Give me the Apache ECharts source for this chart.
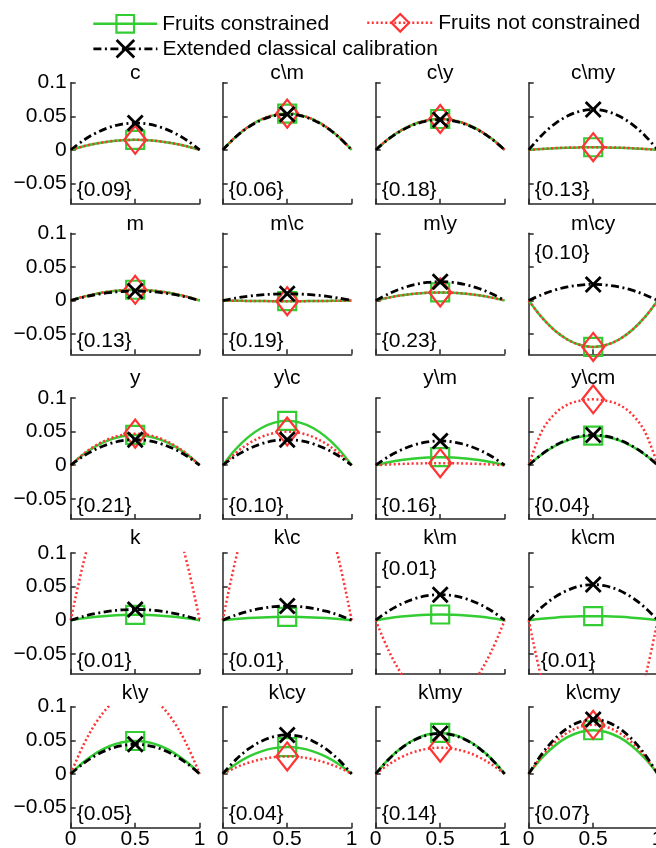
<!DOCTYPE html>
<html><head><meta charset="utf-8">
<script src="https://cdn.jsdelivr.net/npm/echarts@6/dist/echarts.min.js"></script>
<style>html,body{margin:0;padding:0;background:#fff}#c{width:656px;height:848px}</style>
</head><body><div id="c"></div>
<script>
// ---------------- DATA ----------------
const xs = [0, 0.1, 0.2, 0.3, 0.4, 0.5, 0.6, 0.7, 0.8, 0.9, 1];
const markerX = 0.5;
const panelTitles = ['c','c\\m','c\\y','c\\my','m','m\\c','m\\y','m\\cy','y','y\\c','y\\m','y\\cm','k','k\\c','k\\m','k\\cm','k\\y','k\\cy','k\\my','k\\cmy'];
const panelNotes = ['{0.09}','{0.06}','{0.18}','{0.13}','{0.13}','{0.19}','{0.23}','{0.10}','{0.21}','{0.10}','{0.16}','{0.04}','{0.01}','{0.01}','{0.01}','{0.01}','{0.05}','{0.04}','{0.14}','{0.07}'];
const seriesNames = ['Fruits constrained', 'Fruits not constrained', 'Extended classical calibration'];
const xTickValues = [0, 0.5, 1];
const xTickLabels = ['0', '0.5', '1'];
const yTickValues = [-0.05, 0, 0.05, 0.1];
const yTickLabels = ['\u22120.05', '0', '0.05', '0.1'];

const fruitsConstrained = [
  [0,0.0054,0.0096,0.0126,0.0144,0.015,0.0144,0.0126,0.0096,0.0054,0],
  [0,0.0194,0.0346,0.0454,0.0518,0.054,0.0518,0.0454,0.0346,0.0194,0],
  [0,0.0166,0.0294,0.0386,0.0442,0.046,0.0442,0.0386,0.0294,0.0166,0],
  [0,0.0014,0.0026,0.0034,0.0038,0.004,0.0038,0.0034,0.0026,0.0014,0],
  [0,0.0058,0.0102,0.0134,0.0154,0.016,0.0154,0.0134,0.0102,0.0058,0],
  [0,-0.0004,-0.0006,-0.0008,-0.001,-0.001,-0.001,-0.0008,-0.0006,-0.0004,0],
  [0,0.0043,0.0077,0.0101,0.0115,0.012,0.0115,0.0101,0.0077,0.0043,0],
  [0,-0.0248,-0.0442,-0.058,-0.0662,-0.069,-0.0662,-0.058,-0.0442,-0.0248,0],
  [0,0.0162,0.0288,0.0378,0.0432,0.045,0.0432,0.0378,0.0288,0.0162,0],
  [0,0.0238,0.0422,0.0554,0.0634,0.066,0.0634,0.0554,0.0422,0.0238,0],
  [0,0.0043,0.0077,0.0101,0.0115,0.012,0.0115,0.0101,0.0077,0.0043,0],
  [0,0.0158,0.0282,0.037,0.0422,0.044,0.0422,0.037,0.0282,0.0158,0],
  [0,0.0029,0.0051,0.0067,0.0077,0.008,0.0077,0.0067,0.0051,0.0029,0],
  [0,0.0018,0.0032,0.0042,0.0048,0.005,0.0048,0.0042,0.0032,0.0018,0],
  [0,0.0031,0.0054,0.0071,0.0082,0.0085,0.0082,0.0071,0.0054,0.0031,0],
  [0,0.0022,0.0038,0.005,0.0058,0.006,0.0058,0.005,0.0038,0.0022,0],
  [0,0.0176,0.0314,0.0412,0.047,0.049,0.047,0.0412,0.0314,0.0176,0],
  [0,0.0144,0.0256,0.0336,0.0384,0.04,0.0384,0.0336,0.0256,0.0144,0],
  [0,0.022,0.039,0.0512,0.0586,0.061,0.0586,0.0512,0.039,0.022,0],
  [0,0.0234,0.0416,0.0546,0.0624,0.065,0.0624,0.0546,0.0416,0.0234,0]
];
const fruitsNotConstrained = [
  [0,0.0054,0.0096,0.0126,0.0144,0.015,0.0144,0.0126,0.0096,0.0054,0],
  [0,0.0194,0.0346,0.0454,0.0518,0.054,0.0518,0.0454,0.0346,0.0194,0],
  [0,0.0166,0.0294,0.0386,0.0442,0.046,0.0442,0.0386,0.0294,0.0166,0],
  [0,0.0014,0.0026,0.0034,0.0038,0.004,0.0038,0.0034,0.0026,0.0014,0],
  [0,0.0058,0.0102,0.0134,0.0154,0.016,0.0154,0.0134,0.0102,0.0058,0],
  [0,-0.0004,-0.0006,-0.0008,-0.001,-0.001,-0.001,-0.0008,-0.0006,-0.0004,0],
  [0,0.0043,0.0077,0.0101,0.0115,0.012,0.0115,0.0101,0.0077,0.0043,0],
  [0,-0.0248,-0.0442,-0.058,-0.0662,-0.069,-0.0662,-0.058,-0.0442,-0.0248,0],
  [0,0.0169,0.0301,0.0395,0.0451,0.047,0.0451,0.0395,0.0301,0.0169,0],
  [0,0.018,0.032,0.042,0.048,0.05,0.048,0.042,0.032,0.018,0],
  [0,0.0011,0.0019,0.0025,0.0029,0.003,0.0029,0.0025,0.0019,0.0011,0],
  [0,0.05,0.076,0.09,0.096,0.098,0.096,0.09,0.076,0.05,0],
  [0,0.0864,0.1536,0.2016,0.2304,0.24,0.2304,0.2016,0.1536,0.0864,0],
  [0,0.09,0.16,0.21,0.24,0.25,0.24,0.21,0.16,0.09,0],
  [0,-0.045,-0.08,-0.105,-0.12,-0.125,-0.12,-0.105,-0.08,-0.045,0],
  [0,-0.0878,-0.1562,-0.205,-0.2342,-0.244,-0.2342,-0.205,-0.1562,-0.0878,0],
  [0,0.0436,0.0774,0.1016,0.1162,0.121,0.1162,0.1016,0.0774,0.0436,0],
  [0,0.0094,0.0166,0.0218,0.025,0.026,0.025,0.0218,0.0166,0.0094,0],
  [0,0.014,0.025,0.0328,0.0374,0.039,0.0374,0.0328,0.025,0.014,0],
  [0,0.0263,0.0467,0.0613,0.0701,0.073,0.0701,0.0613,0.0467,0.0263,0]
];
const extendedClassical = [
  [0,0.0144,0.0256,0.0336,0.0384,0.04,0.0384,0.0336,0.0256,0.0144,0],
  [0,0.0191,0.0339,0.0445,0.0509,0.053,0.0509,0.0445,0.0339,0.0191,0],
  [0,0.0162,0.0288,0.0378,0.0432,0.045,0.0432,0.0378,0.0288,0.0162,0],
  [0,0.0216,0.0384,0.0504,0.0576,0.06,0.0576,0.0504,0.0384,0.0216,0],
  [0,0.005,0.009,0.0118,0.0134,0.014,0.0134,0.0118,0.009,0.005,0],
  [0,0.0036,0.0064,0.0084,0.0096,0.01,0.0096,0.0084,0.0064,0.0036,0],
  [0,0.0101,0.0179,0.0235,0.0269,0.028,0.0269,0.0235,0.0179,0.0101,0],
  [0,0.0086,0.0154,0.0202,0.023,0.024,0.023,0.0202,0.0154,0.0086,0],
  [0,0.0137,0.0243,0.0319,0.0365,0.038,0.0365,0.0319,0.0243,0.0137,0],
  [0,0.0137,0.0243,0.0319,0.0365,0.038,0.0365,0.0319,0.0243,0.0137,0],
  [0,0.013,0.023,0.0302,0.0346,0.036,0.0346,0.0302,0.023,0.013,0],
  [0,0.0162,0.0288,0.0378,0.0432,0.045,0.0432,0.0378,0.0288,0.0162,0],
  [0,0.0058,0.0102,0.0134,0.0154,0.016,0.0154,0.0134,0.0102,0.0058,0],
  [0,0.0076,0.0134,0.0176,0.0202,0.021,0.0202,0.0176,0.0134,0.0076,0],
  [0,0.0137,0.0243,0.0319,0.0365,0.038,0.0365,0.0319,0.0243,0.0137,0],
  [0,0.0191,0.0339,0.0445,0.0509,0.053,0.0509,0.0445,0.0339,0.0191,0],
  [0,0.0158,0.0282,0.037,0.0422,0.044,0.0422,0.037,0.0282,0.0158,0],
  [0,0.0209,0.0371,0.0487,0.0557,0.058,0.0557,0.0487,0.0371,0.0209,0],
  [0,0.0216,0.0384,0.0504,0.0576,0.06,0.0576,0.0504,0.0384,0.0216,0],
  [0,0.0292,0.0518,0.068,0.0778,0.081,0.0778,0.068,0.0518,0.0292,0]
];

// ---------------- LAYOUT / STYLE ----------------
const FONT = '"Liberation Sans", Arial, Helvetica, sans-serif';
const FS = 21;
const colLeft = [70.7, 222.7, 375.7, 528.7];
const rowTop = [82.7, 233.3, 398, 553, 706.7];
const titleBaseline = [80, 231.7, 385, 545, 700.7];
const PW = 129, PH = 121;
const noteTweaks = {7: {top: 20}, 14: {top: 16.3}, 15: {dx: 6}};
const axisColor = '#262626';
const styles = [
  {color: '#33cc33', width: 2.5, type: 'solid', symbol: 'rect', size: 18, bw: 2.2},
  {color: '#ff3333', width: 2.5, type: [2, 2.5], symbol: 'diamond', size: [22, 28], bw: 2.2},
  {color: '#000000', width: 2.8, type: [8, 3.5, 2, 3.5], symbol: 'path://M0,0L10,10M10,0L0,10', size: 15, bw: 2.8}
];
const allData = [fruitsConstrained, fruitsNotConstrained, extendedClassical];

const grids = [], xAxes = [], yAxes = [], series = [], graphics = [];
const mid = xs.indexOf(markerX);

for (let i = 0; i < 20; i++) {
  const r = Math.floor(i / 4), c = i % 4;
  grids.push({left: colLeft[c], top: rowTop[r], width: PW, height: PH, containLabel: false, outerBoundsMode: 'none'});
  xAxes.push({
    type: 'value', gridIndex: i, min: 0, max: 1, interval: 0.5, position: 'bottom',
    axisLine: {show: true, onZero: false, lineStyle: {color: axisColor, width: 1.5}},
    axisTick: {show: true, inside: true, length: 5, lineStyle: {color: axisColor, width: 1.5}},
    splitLine: {show: false},
    axisLabel: {show: r === 4, margin: 1, fontSize: FS, fontFamily: FONT, color: '#000',
      formatter: v => { const k = xTickValues.indexOf(v); return k >= 0 ? xTickLabels[k] : ''; }}
  });
  yAxes.push({
    type: 'value', gridIndex: i, min: -0.08, max: 0.1, position: 'left',
    axisLine: {show: true, onZero: false, lineStyle: {color: axisColor, width: 1.5}},
    axisTick: {show: true, inside: true, length: 5, customValues: yTickValues, lineStyle: {color: axisColor, width: 1.5}},
    splitLine: {show: false},
    axisLabel: {show: c === 0, margin: 4, fontSize: FS, fontFamily: FONT, color: '#000', customValues: yTickValues,
      formatter: v => { let k = -1; yTickValues.forEach((t, j) => { if (Math.abs(t - v) < 1e-9) k = j; }); return k >= 0 ? yTickLabels[k] : ''; }}
  });
  for (let s = 0; s < 3; s++) {
    const st = styles[s];
    const vals = allData[s][i];
    series.push({
      type: 'line', name: seriesNames[s], xAxisIndex: i, yAxisIndex: i,
      data: xs.map((x, j) => j === mid ? {value: [x, vals[j]]} : {value: [x, vals[j]], symbol: 'none'}),
      smooth: 0.35, clip: true, showSymbol: true,
      symbol: st.symbol, symbolSize: st.size,
      lineStyle: {color: st.color, width: st.width, type: st.type},
      itemStyle: {color: 'rgba(0,0,0,0)', borderColor: st.color, borderWidth: st.bw},
      emphasis: {disabled: true}, silent: true, animation: false, z: 2 + s
    });
  }
  graphics.push({
    type: 'text', silent: true, x: colLeft[c] + PW / 2, y: titleBaseline[r] - 7,
    style: {text: panelTitles[i], font: FS + 'px ' + FONT, fill: '#000', align: 'center', verticalAlign: 'middle', textAlign: 'center', textVerticalAlign: 'middle'}
  });
  const tw = noteTweaks[i] || {};
  const ny = tw.top !== undefined ? rowTop[r] + tw.top : rowTop[r] + PH - 13;
  graphics.push({
    type: 'text', silent: true, x: colLeft[c] + 6 + (tw.dx || 0), y: ny,
    style: {text: panelNotes[i], font: FS + 'px ' + FONT, fill: '#000', align: 'left', verticalAlign: 'middle', textAlign: 'left', textVerticalAlign: 'middle'}
  });
}

function mkLegend(s, left, top, w) {
  const st = styles[s];
  return {
    data: [seriesNames[s]], left: left, top: top, padding: 0, itemWidth: w, itemHeight: 22,
    selectedMode: false, orient: 'horizontal',
    textStyle: {fontSize: FS, fontFamily: FONT, color: '#000'},
    itemStyle: {color: 'rgba(0,0,0,0)', borderColor: st.color, borderWidth: st.bw},
    lineStyle: {color: st.color, width: st.width, type: st.type}
  };
}

const chart = echarts.init(document.getElementById('c'), null, {renderer: 'canvas'});
chart.setOption({
  animation: false,
  backgroundColor: '#fff',
  textStyle: {fontFamily: FONT},
  legend: [mkLegend(0, 92, 13.3, 64), mkLegend(1, 366, 12.3, 66), mkLegend(2, 92, 38.3, 64)],
  grid: grids, xAxis: xAxes, yAxis: yAxes, series: series, graphic: graphics
});
</script></body></html>
